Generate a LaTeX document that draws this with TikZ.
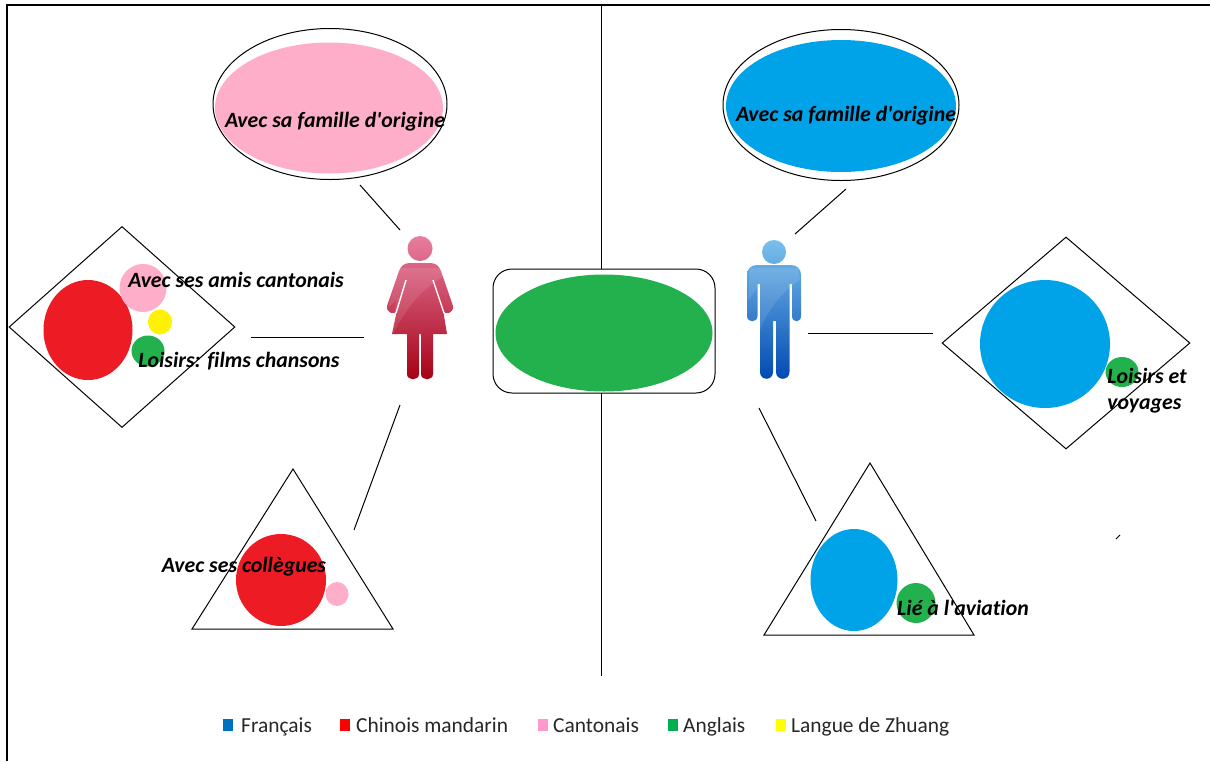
\documentclass[tikz,border=0pt]{standalone}
\usepackage{fontspec}
\newfontfamily\plainfont{Carlito}[Ligatures=NoCommon]
\usepackage {tikz}
\usetikzlibrary {shapes.geometric}
\definecolor {rosefill}{RGB}{255,174,201}
\definecolor {bluefill}{RGB}{0,162,232}
\definecolor {greenfill}{RGB}{34,177,76}
\definecolor {redfill}{RGB}{237,28,36}
\definecolor {yellowfill}{RGB}{255,242,0}
\definecolor {womantop}{RGB}{232,125,160}
\definecolor {womanmid}{RGB}{205,40,75}
\definecolor {womanbot}{RGB}{165,0,20}
\definecolor {mantop}{RGB}{122,192,236}
\definecolor {manmid}{RGB}{40,124,214}
\definecolor {manbot}{RGB}{0,72,178}

\begin{document}
\begin{tikzpicture}[x=1pt,y=-1pt]
  \tikzstyle{blob}=[ellipse,inner sep=0pt,draw=none]
  \tikzstyle{bubble}=[ellipse,inner sep=0pt,draw=black,line width=1pt,fill=white]
  \tikzstyle{rhomb}=[diamond,inner sep=0pt,draw=black,line width=1pt]
  \tikzstyle{caption}=[inner sep=0pt,font=\fontsize{21.8}{26}\plainfont\bfseries\itshape,align=center]
  \tikzstyle{legendbox}=[inner sep=0pt,minimum width=10pt,minimum height=12pt]
  \tikzstyle{legendtext}=[inner sep=0pt,anchor=base west,font=\fontsize{21.4}{24}\plainfont,text=black!85]
  \tikzstyle{link}=[draw=black,line width=1pt]
  \useasboundingbox (0,0) rectangle (1210,761);

  \coordinate (F_tl) at (7,5);
  \coordinate (F_tr) at (1210,5);
  \coordinate (F_bl) at (7,761);
  \coordinate (M_t) at (601,5);
  \coordinate (M_b) at (601,676);
  \draw[link,line width=1.5pt] (F_bl) -- (F_tl) -- (F_tr);
  \draw[link] (M_t) -- (M_b);

  \node[rounded corners=19pt,draw=black,line width=1pt,fill=white,inner sep=0pt,minimum width=222pt,minimum height=124pt] (Common) at (604,331) {};
  \node[blob,fill=greenfill,minimum width=217pt,minimum height=117pt] (Anglais) at (604,333) {};

  \node[bubble,minimum width=234pt,minimum height=151pt] (Fam_f) at (330,104) {};
  \node[blob,fill=rosefill,minimum width=228pt,minimum height=131pt] at (329,108) {};
  \node[caption] (Fam_f_t) at (335,122) {Avec sa famille d'origine};
  \node[bubble,minimum width=236pt,minimum height=151pt] (Fam_m) at (841,105) {};
  \node[blob,fill=bluefill,minimum width=230pt,minimum height=132pt] at (841,106) {};
  \node[caption] (Fam_m_t) at (846,116) {Avec sa famille d'origine};

  \node[rhomb,minimum width=226pt,minimum height=201pt] (Ami_f) at (122,327) {};
  \node[blob,fill=redfill,minimum width=89pt,minimum height=100pt] (Ami_f_1) at (88,330) {};
  \node[blob,fill=rosefill,minimum width=47pt,minimum height=48pt] (Ami_f_2) at (143,288) {};
  \node[blob,fill=yellowfill,minimum width=24pt,minimum height=25pt] (Ami_f_3) at (160,322) {};
  \node[blob,fill=greenfill,minimum width=33pt,minimum height=31pt] (Ami_f_4) at (148,351) {};
  \node[caption] (Ami_f_t) at (236,280) {Avec ses amis cantonais};
  \node[caption] (Film_t) at (239,361) {Loisirs: films chansons};

  \node[rhomb,minimum width=248pt,minimum height=212pt] (Loisir) at (1066,343) {};
  \node[blob,fill=bluefill,minimum width=130pt,minimum height=128pt] (Loisir_1) at (1045,344) {};
  \node[blob,fill=greenfill,minimum width=33pt,minimum height=30pt] (Loisir_2) at (1122,372) {};
  \node[caption,align=left] (Loisir_t) at (1147,391) {Loisirs et\\voyages};

  \draw[link] (293,469) -- (393,629) -- (192,629) -- cycle;
  \node[blob,fill=redfill,minimum width=90pt,minimum height=92pt] (Coll_1) at (281,580) {};
  \node[blob,fill=rosefill,minimum width=23pt,minimum height=24pt] (Coll_2) at (337,594) {};
  \node[caption] (Coll_t) at (244,567) {Avec ses collègues};

  \draw[link] (870,463) -- (974,635) -- (764,635) -- cycle;
  \node[blob,fill=bluefill,minimum width=87pt,minimum height=102pt] (Avia_1) at (854,580) {};
  \node[blob,fill=greenfill,minimum width=39pt,minimum height=40pt] (Avia_2) at (916,603) {};
  \node[caption] (Avia_t) at (963,608) {Lié à l'aviation};

  \shade[top color=womantop,middle color=womanmid,bottom color=womanbot,draw=none]
    (420,236) arc (-90:270:12.5) -- cycle
    (410,263) -- (430,263) .. controls (436,263) and (439,266) .. (441,271)
    -- (453,306) .. controls (454,313) and (445,316) .. (443,310)
    -- (447,334) -- (433,334) -- (433,374)
    .. controls (433,381) and (421,381) .. (421,374) -- (421,334) -- (419,334) -- (419,374)
    .. controls (419,381) and (407,381) .. (407,374) -- (407,334) -- (392,334)
    -- (397,310) .. controls (395,316) and (386,313) .. (387,306)
    -- (399,271) .. controls (401,266) and (404,263) .. (410,263) -- cycle;
  \draw[white,line width=1.4pt] (406,280) -- (396,313) (433,280) -- (444,313);
  \fill[white,opacity=.1] (399,268) -- (441,268) -- (445,275) .. controls (420,290) and (405,310) .. (393,334) -- (396,300) -- (388,308) -- cycle;

  \shade[top color=mantop,middle color=manmid,bottom color=manbot,draw=none]
    (774,240) arc (-90:270:12) -- cycle
    (757,265) -- (791,265) .. controls (797,265) and (801,269) .. (801,275)
    -- (801,316) .. controls (801,323) and (792,323) .. (792,316) -- (792,284) -- (789.5,284)
    -- (789.5,372) .. controls (789.5,381) and (776,381) .. (776,372) -- (776,321) -- (773,321)
    -- (773,372) .. controls (773,381) and (760,381) .. (760,372) -- (760,284) -- (757.5,284)
    -- (757.5,316) .. controls (757.5,323) and (747,323) .. (747,316) -- (747,275)
    .. controls (747,269) and (751,265) .. (757,265) -- cycle;
  \fill[white,opacity=.1] (750,268) -- (798,268) -- (800,280) .. controls (785,290) and (770,305) .. (760,330) -- (760,285) -- (748,300) -- cycle;

  \coordinate (C_1a) at (360,185);
  \coordinate (C_1b) at (400,230);
  \coordinate (C_2a) at (251,337);
  \coordinate (C_2b) at (364,337);
  \coordinate (C_3a) at (400,405);
  \coordinate (C_3b) at (354,530);
  \coordinate (C_4a) at (846,189);
  \coordinate (C_4b) at (795,234);
  \coordinate (C_5a) at (808,333);
  \coordinate (C_5b) at (933,333);
  \coordinate (C_6a) at (759,408);
  \coordinate (C_6b) at (816,521);
  \coordinate (C_7a) at (1116,539);
  \coordinate (C_7b) at (1120,535);
  \draw[link] (C_1a) -- (C_1b);
  \draw[link] (C_2a) -- (C_2b);
  \draw[link] (C_3a) -- (C_3b);
  \draw[link] (C_4a) -- (C_4b);
  \draw[link] (C_5a) -- (C_5b);
  \draw[link] (C_6a) -- (C_6b);
  \draw[link] (C_7a) -- (C_7b);

  \node[legendbox,fill={rgb,255:red,0;green,112;blue,192}] (L_1) at (228,725) {};
  \node[legendtext] (L_1t) at (241,732) {Français};
  \node[legendbox,fill={rgb,255:red,255;green,0;blue,0}] (L_2) at (345,725) {};
  \node[legendtext] (L_2t) at (356,732) {Chinois mandarin};
  \node[legendbox,fill={rgb,255:red,255;green,153;blue,204}] (L_3) at (543,725) {};
  \node[legendtext] (L_3t) at (553,732) {Cantonais};
  \node[legendbox,fill={rgb,255:red,0;green,176;blue,80}] (L_4) at (673,725) {};
  \node[legendtext] (L_4t) at (683,732) {Anglais};
  \node[legendbox,fill={rgb,255:red,255;green,255;blue,0}] (L_5) at (781,725) {};
  \node[legendtext] (L_5t) at (791,732) {Langue de Zhuang};
\end{tikzpicture}
\end{document}
